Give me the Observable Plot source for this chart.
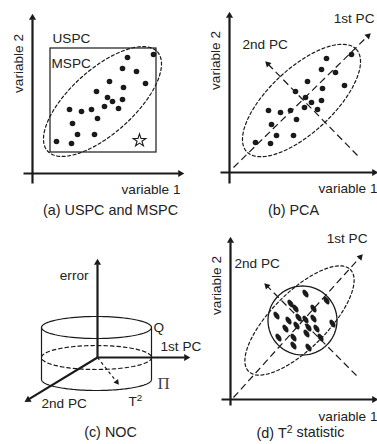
<!DOCTYPE html>
<html><head><meta charset="utf-8">
<script src="https://cdn.jsdelivr.net/npm/d3@7"></script>
<script src="https://cdn.jsdelivr.net/npm/@observablehq/plot@0.6"></script>
<style>html,body{margin:0;padding:0;background:#fff;} #chart svg{display:block;}</style>
</head><body><div id="chart"></div>
<script>
// Panel (a): observations and the outlier (star)
const dotsA = [[56,141],[71,143],[77,134],[94,134],[72,123],[69,109],[81,111],[91,109],[97,118],[96,91],[109,81],[107,97],[112,101],[104,106],[118,108],[122,99],[123,87],[122,68],[127,57],[136,71],[145,83],[153,54]];
const outlierA = [[139,140]];
// Panel (b): same observations
const dotsB = [[255,142],[270,143],[276,135],[293,135],[271,124],[268,110],[280,112],[290,110],[296,119],[295,91],[307,81],[305,97],[311,102],[304,107],[317,109],[321,100],[322,88],[321,69],[326,58],[335,72],[344,85],[351,54]];
// Panel (d): whitened scores
const blobsD = [[305,293],[290,303],[295,308],[313,308],[276,315],[288,320],[298,317],[305,319],[313,318],[326,300],[332,323],[285,328],[296,325],[308,327],[316,328],[278,337],[293,337],[306,333],[320,337],[293,345],[308,347]];
// Solid axes with arrow heads [x1,y1,x2,y2]
const solidAxes = [[32,183,32,12],[23,173,185,173],[229,183,229,10],[220,172,379,172],[97,357,97,257],[97,357,191,357],[97,357,23,402],[230,405,230,235],[221,399,379,399]];
// Principal component (dashed) arrows
const pcArrows = [[233,167,371,32],[357,155,264,60],[233,397,363,253],[356,375,263,282]];
const t2Arrow = [[97,357,119,385]];
// Ellipses [cx, cy, rx, ry, angle]
const dashedEllipses = [[102,101,74,32,42],[301,100,75,32,43],[299,320,72,28,45]];
const t2Circle = [[302,320,34.5,34.5,0]];
const uspcBox = [[50,48,156,152]];
const cylTop = [[96,327,55,11,0]];
const cylMid = [[96,357,55,12,0]];
const cylBottom = [[96,379,55,11,0]];
const cylSides = [[41,327,41,379],[151,327,151,379]];
// Labels [text, x, y(baseline)]
const startLabels = [["USPC",52,42],["MSPC",51,67],["2nd PC",242,48],["Q",153,331],["1st PC",160,350],["2nd PC",41,407],["T²",128,405],["2nd PC",234,267]];
const endLabels = [["variable 1",180,193],["variable 1",377,192],["1st PC",374,22],["error",88,279],["variable 1",377,420],["1st PC",367,242]];
const yLabels = [["variable 2",18,63],["variable 2",215,60],["variable 2",216,285]];
const captions = [["(a) USPC and MSPC",110,214],["(b) PCA",293,214],["(c) NOC",110,436],["(d) T² statistic",300,437]];
const piLabel = [["Π",157,388]];

const INK = "#1a1a1a";
const FONT = "Liberation Sans, Arial, Helvetica, sans-serif";

function ellipsePts(list, t0 = 0, t1 = 2 * Math.PI, n = 96) {
  const out = [];
  list.forEach(([cx, cy, rx, ry, deg], id) => {
    const p = deg * Math.PI / 180, ux = Math.cos(p), uy = -Math.sin(p), vx = Math.sin(p), vy = Math.cos(p);
    for (let i = 0; i <= n; i++) {
      const t = t0 + (t1 - t0) * i / n;
      out.push({id, x: cx + rx * Math.cos(t) * ux + ry * Math.sin(t) * vx, y: cy + rx * Math.cos(t) * uy + ry * Math.sin(t) * vy});
    }
  });
  return out;
}
function heads(list, r) {
  const h = Math.sqrt(Math.PI * r * r / (3 * Math.sqrt(3)));
  return list.map(([x1, y1, x2, y2]) => {
    const L = Math.hypot(x2 - x1, y2 - y1), ux = (x2 - x1) / L, uy = (y2 - y1) / L;
    return {x: x2 - 2 * h * ux, y: y2 - 2 * h * uy, bx: x2 - 2.6 * h * ux, by: y2 - 2.6 * h * uy, x1, y1,
            rotate: Math.atan2(ux, -uy) * 180 / Math.PI};
  });
}
const axisHeads = heads(solidAxes, 3.4);
const pcHeads = heads(pcArrows, 3.1);
const t2Heads = heads(t2Arrow, 2.8);
const blobPts = ellipsePts(blobsD.map(([x, y]) => [x, y, 4.1, 2.2, -58]), 0, 2 * Math.PI, 24);

const txt = (data, anchor, extra = {}) => Plot.text(data, {x: d => d[1], y: d => d[2], text: d => d[0], textAnchor: anchor, lineAnchor: "bottom", fontSize: 13.6, fill: "#222", ...extra});

const chart = Plot.plot({
  width: 377, height: 444, margin: 0,
  x: {domain: [0, 377], range: [0, 377], axis: null},
  y: {domain: [0, 444], range: [0, 444], axis: null},
  style: {background: "#fff", fontFamily: FONT},
  marks: [
    Plot.rect(uspcBox, {x1: d => d[0], y1: d => d[1], x2: d => d[2], y2: d => d[3], fill: "none", stroke: INK, strokeWidth: 1.2}),
    Plot.line(ellipsePts(dashedEllipses), {x: "x", y: "y", z: "id", stroke: INK, strokeWidth: 1.2, strokeDasharray: "3,2.5"}),
    Plot.line(ellipsePts(t2Circle), {x: "x", y: "y", z: "id", stroke: INK, strokeWidth: 1.3}),
    Plot.line(ellipsePts(cylTop), {x: "x", y: "y", z: "id", stroke: INK, strokeWidth: 1.2}),
    Plot.line(ellipsePts(cylMid), {x: "x", y: "y", z: "id", stroke: INK, strokeWidth: 1.2, strokeDasharray: "3.5,3"}),
    Plot.line(ellipsePts(cylBottom, 0, Math.PI), {x: "x", y: "y", z: "id", stroke: INK, strokeWidth: 1.2}),
    Plot.link(cylSides, {x1: d => d[0], y1: d => d[1], x2: d => d[2], y2: d => d[3], stroke: INK, strokeWidth: 1.2}),
    // axes
    Plot.link(axisHeads, {x1: "x1", y1: "y1", x2: "bx", y2: "by", stroke: INK, strokeWidth: 2.2}),
    Plot.dot(axisHeads, {x: "x", y: "y", symbol: "triangle2", r: 3.4, rotate: "rotate", fill: INK, stroke: "none"}),
    // PC arrows
    Plot.link(pcHeads, {x1: "x1", y1: "y1", x2: "bx", y2: "by", stroke: INK, strokeWidth: 1.2, strokeDasharray: "7,4"}),
    Plot.dot(pcHeads, {x: "x", y: "y", symbol: "triangle2", r: 3.1, rotate: "rotate", fill: INK, stroke: "none"}),
    Plot.link(t2Heads, {x1: "x1", y1: "y1", x2: "bx", y2: "by", stroke: INK, strokeWidth: 1.2, strokeDasharray: "3,3"}),
    Plot.dot(t2Heads, {x: "x", y: "y", symbol: "triangle2", r: 2.8, rotate: "rotate", fill: INK, stroke: "none"}),
    // observations
    Plot.dot(dotsA, {x: d => d[0], y: d => d[1], r: 2.8, fill: INK, stroke: "none"}),
    Plot.dot(dotsB, {x: d => d[0], y: d => d[1], r: 2.8, fill: INK, stroke: "none"}),
    Plot.dot(outlierA, {x: d => d[0], y: d => d[1], symbol: "star", r: 4, fill: "#fff", stroke: INK, strokeWidth: 1.1}),
    Plot.line(blobPts, {x: "x", y: "y", z: "id", fill: INK, stroke: INK, strokeWidth: 0.4, curve: "linear-closed"}),
    // texts
    txt(startLabels, "start"),
    txt(endLabels, "end"),
    Plot.text(yLabels, {x: d => d[1], y: d => d[2], text: d => d[0], rotate: -90, textAnchor: "middle", fontSize: 13.6, fill: "#222"}),
    txt(captions, "middle", {fontSize: 14.4}),
    txt(piLabel, "start", {fontSize: 17, fontFamily: "Liberation Serif, DejaVu Serif, serif", fill: "#444"})
  ]
});
// render the "²" as a real superscript
chart.querySelectorAll("text").forEach(t => {
  if (!t.textContent.includes("²") || t.children.length) return;
  const [a, b] = t.textContent.split("²");
  t.textContent = "";
  const ns = "http://www.w3.org/2000/svg";
  const s1 = document.createElementNS(ns, "tspan"); s1.textContent = a;
  const s2 = document.createElementNS(ns, "tspan"); s2.textContent = "2"; s2.setAttribute("dy", "-0.42em"); s2.setAttribute("font-size", "0.72em");
  const s3 = document.createElementNS(ns, "tspan"); s3.textContent = b; s3.setAttribute("dy", "0.3em");
  t.append(s1, s2, s3);
});
document.getElementById("chart").append(chart);
</script></body></html>
